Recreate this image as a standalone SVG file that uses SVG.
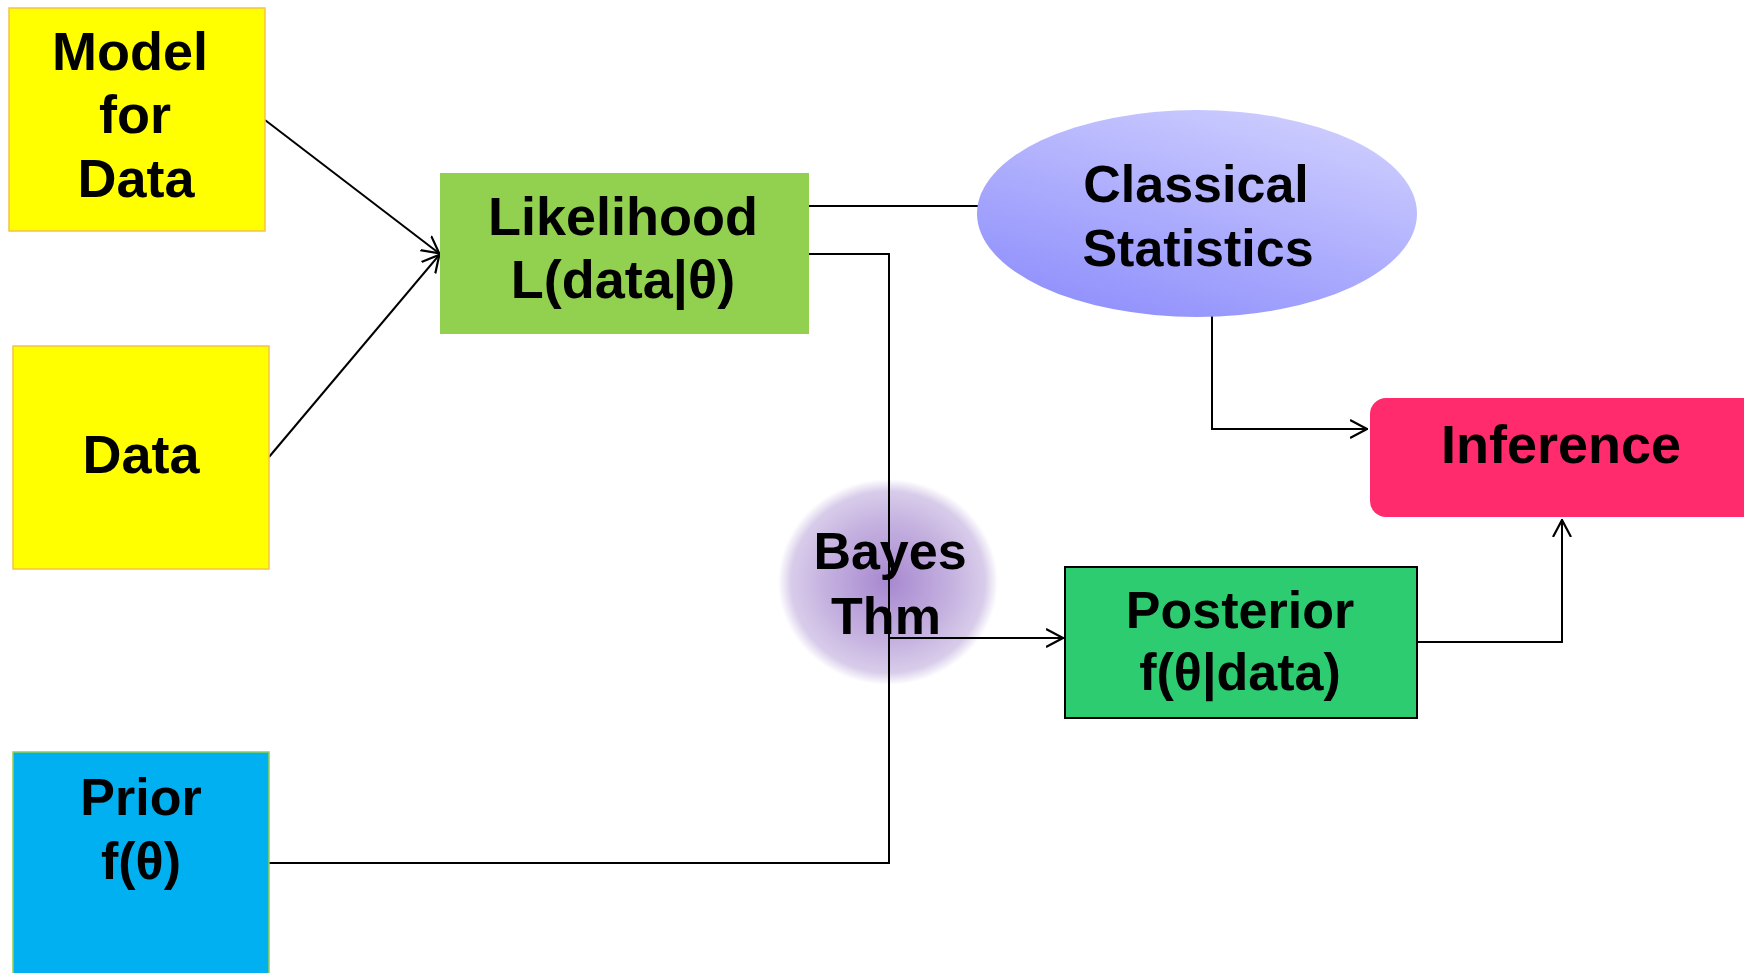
<svg xmlns="http://www.w3.org/2000/svg" width="1744" height="973" viewBox="0 0 1744 973">
<style>
  text { font-family: "Liberation Sans", Arial, sans-serif; font-weight: bold; fill: #000; text-anchor: middle; }
  .t54 { font-size: 54px; }
  .t52 { font-size: 52px; }
  .conn { fill: none; stroke: #000; stroke-width: 2; }
</style>
<defs>
  <marker id="arr" viewBox="0 0 18 20" refX="18" refY="10" markerWidth="18" markerHeight="20" markerUnits="userSpaceOnUse" orient="auto">
    <path d="M0,1 L17,10 L0,19" fill="none" stroke="#000" stroke-width="2.2"/>
  </marker>
  <linearGradient id="ellg" x1="0.8" y1="0" x2="0.2" y2="1">
    <stop offset="0" stop-color="#CFCFFF"/>
    <stop offset="1" stop-color="#8E8EFC"/>
  </linearGradient>
  <radialGradient id="bayg" cx="0.5" cy="0.5" r="0.5">
    <stop offset="0" stop-color="#A788D0"/>
    <stop offset="0.6" stop-color="#C6B3E0"/>
    <stop offset="0.88" stop-color="#D8CCEA"/>
    <stop offset="1" stop-color="#D8CCEA" stop-opacity="0"/>
  </radialGradient>
</defs>

<g id="bayes-bg">
  <ellipse cx="888" cy="582" rx="110" ry="103" fill="url(#bayg)"/>
</g>

<g id="connectors">
  <line class="conn" x1="265" y1="120" x2="440" y2="254" marker-end="url(#arr)"/>
  <line class="conn" x1="269" y1="457" x2="440" y2="254" marker-end="url(#arr)"/>
  <line class="conn" x1="809" y1="206" x2="979" y2="206"/>
  <polyline class="conn" points="809,254 889,254 889,863 269,863"/>
  <line class="conn" x1="889" y1="638" x2="1064" y2="638" marker-end="url(#arr)"/>
  <polyline class="conn" points="1212,316 1212,429 1368,429" marker-end="url(#arr)"/>
  <polyline class="conn" points="1417,642 1562,642 1562,519" marker-end="url(#arr)"/>
</g>

<g id="model">
  <rect x="9" y="8" width="256" height="223" fill="#FFFF00" stroke="#F5C343" stroke-width="1.5"/>
  <text class="t54" x="130" y="70">Model</text>
  <text class="t54" x="135" y="133">for</text>
  <text class="t54" x="136" y="197">Data</text>
</g>

<g id="data">
  <rect x="13" y="346" width="256" height="223" fill="#FFFF00" stroke="#F5C343" stroke-width="1.5"/>
  <text class="t54" x="141" y="473">Data</text>
</g>

<g id="prior">
  <rect x="13" y="752" width="256" height="230" fill="#00B0F0" stroke="#92D050" stroke-width="1.5"/>
  <text class="t52" x="141" y="815">Prior</text>
  <text class="t52" x="141" y="879">f(θ)</text>
</g>

<g id="likelihood">
  <rect x="440" y="173" width="369" height="161" fill="#92D050"/>
  <text class="t54" x="623" y="235">Likelihood</text>
  <text class="t54" x="623" y="298">L(data|θ)</text>
</g>

<g id="classical">
  <ellipse cx="1197" cy="213.5" rx="220" ry="103.5" fill="url(#ellg)"/>
  <text class="t52" x="1196" y="202">Classical</text>
  <text class="t52" x="1198" y="266">Statistics</text>
</g>

<g id="bayes">
  <text class="t52" x="890" y="569">Bayes</text>
  <text class="t52" x="886" y="634">Thm</text>
</g>

<g id="posterior">
  <rect x="1065" y="567" width="352" height="151" fill="#2ECC71" stroke="#000" stroke-width="2"/>
  <text class="t52" x="1240" y="628">Posterior</text>
  <text class="t52" x="1240" y="690">f(θ|data)</text>
</g>

<g id="inference">
  <rect x="1370" y="398" width="390" height="119" rx="16" ry="16" fill="#FF2B6D"/>
  <text class="t54" x="1561" y="463">Inference</text>
</g>
</svg>
